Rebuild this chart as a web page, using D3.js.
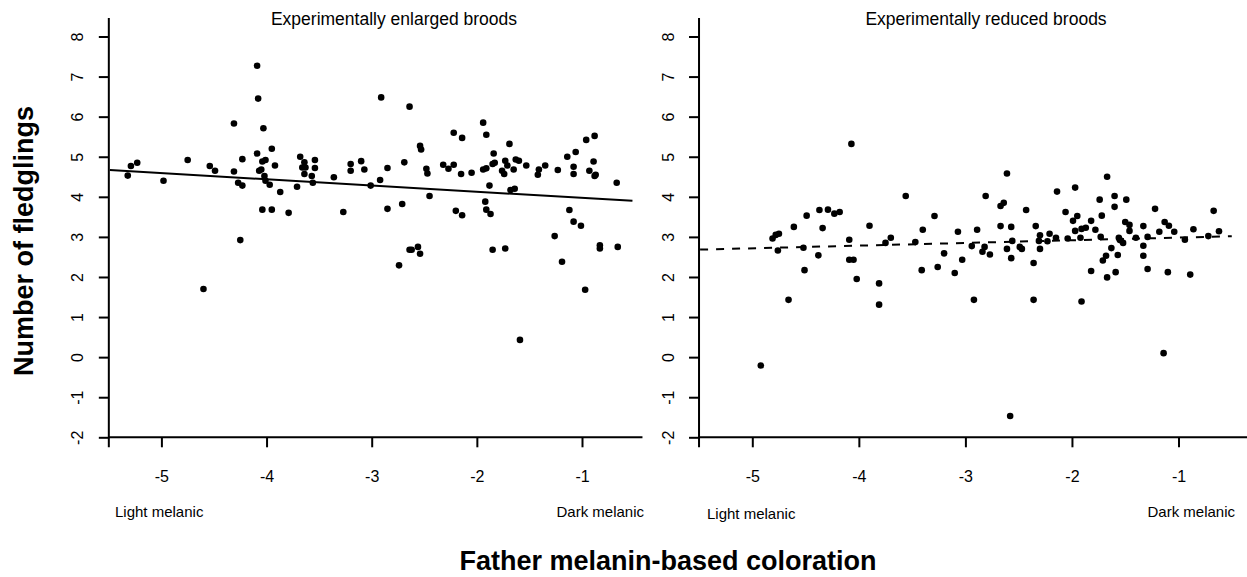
<!DOCTYPE html>
<html>
<head>
<meta charset="utf-8">
<script src="https://cdn.jsdelivr.net/npm/d3@7"></script>
<style>
  body { margin: 0; background: #fff; }
  svg { font-family: "Liberation Sans", Arial, sans-serif; }
</style>
</head>
<body>
<div id="chart"></div>
<script>
var width = 1247, height = 577;

// values
var xTicks = [-5, -4, -3, -2, -1];
var yTicks = [-2, -1, 0, 1, 2, 3, 4, 5, 6, 7, 8];

var enlarged = [
  [-4.09,7.27],[-4.08,6.45],[-2.91,6.48],[-2.64,6.25],[-4.31,5.83],[-4.03,5.71],[-1.94,5.85],
  [-5.32,4.53],[-5.29,4.77],[-5.23,4.85],[-4.98,4.40],[-4.75,4.92],[-4.54,4.77],[-4.49,4.65],
  [-4.31,4.63],[-4.27,4.35],[-4.23,4.28],[-4.23,4.94],[-4.25,2.92],[-4.09,5.08],[-4.07,4.65],
  [-4.05,4.68],[-4.04,4.88],[-4.01,4.92],[-4.02,4.52],[-4.01,4.40],[-3.97,4.30],[-3.95,5.20],
  [-3.92,4.78],[-4.04,3.68],[-3.95,3.68],[-3.87,4.12],[-3.79,3.60],[-3.71,4.25],[-3.68,5.00],
  [-3.64,4.86],[-3.66,4.73],[-3.63,4.73],[-3.64,4.57],[-3.57,4.52],[-3.56,4.35],[-3.54,4.92],
  [-3.54,4.72],[-3.36,4.49],[-3.27,3.62],[-3.20,4.82],[-3.20,4.65],[-3.10,4.89],[-3.07,4.68],
  [-3.01,4.28],[-2.92,4.42],[-2.85,4.72],[-2.85,3.70],[-2.71,3.82],[-2.69,4.86],[-2.54,5.27],
  [-2.53,5.18],[-2.48,4.70],[-2.47,4.58],[-2.45,4.02],[-2.32,4.80],[-2.27,4.70],[-2.22,4.80],
  [-2.22,5.60],[-2.20,3.65],[-2.15,4.57],[-2.14,5.47],[-2.14,3.54],[-2.05,4.60],[-1.94,4.68],
  [-1.91,4.71],[-1.91,5.55],[-1.92,3.88],[-1.91,3.68],[-1.88,4.28],[-1.87,3.57],[-1.85,4.82],
  [-1.84,5.08],[-1.83,4.85],[-1.76,4.65],[-1.74,4.57],[-1.73,4.90],[-1.71,4.78],[-1.69,5.32],
  [-1.68,4.17],[-1.65,4.68],[-1.64,4.20],[-1.63,4.93],[-1.60,4.90],[-1.53,4.78],[-1.42,4.55],
  [-1.41,4.68],[-1.35,4.78],[-1.26,3.02],[-1.23,4.67],[-1.14,5.00],[-1.12,3.67],[-1.08,3.38],
  [-1.08,4.75],[-1.08,4.57],[-1.06,5.12],[-1.01,3.28],[-0.96,5.42],[-0.93,4.65],[-0.89,4.88],
  [-0.88,5.52],[-0.88,4.52],[-0.87,4.55],[-0.67,4.35],
  [-4.60,1.70],[-2.74,2.29],[-2.64,2.68],[-2.62,2.68],[-2.56,2.75],[-2.54,2.58],[-1.85,2.68],
  [-1.73,2.71],[-1.59,0.43],[-1.19,2.38],[-0.97,1.68],[-0.83,2.79],[-0.83,2.71],[-0.66,2.75]
];

var reduced = [
  [-4.07,5.32],[-2.61,4.58],[-1.67,4.50],[-3.56,4.02],[-2.81,4.02],[-2.14,4.13],[-1.97,4.23],
  [-1.60,4.02],[-1.74,3.93],[-1.49,3.93],[-2.67,3.77],[-2.64,3.85],[-1.60,3.75],[-4.37,3.67],
  [-4.29,3.68],[-4.23,3.58],[-4.18,3.62],[-4.49,3.53],[-2.43,3.67],[-1.22,3.70],[-0.67,3.65],
  [-3.29,3.52],[-2.06,3.62],[-1.95,3.52],[-1.72,3.53],[-1.99,3.40],[-1.82,3.40],[-1.50,3.37],
  [-1.13,3.37],[-1.09,3.28],[-1.46,3.30],[-1.33,3.27],[-4.61,3.25],[-4.34,3.22],[-3.90,3.28],
  [-3.40,3.18],[-3.07,3.13],[-2.89,3.18],[-2.67,3.27],[-2.57,3.25],[-2.34,3.27],[-2.21,3.08],
  [-2.30,3.04],[-2.15,2.98],[-2.04,2.96],[-1.97,3.15],[-1.91,3.20],[-1.87,3.23],[-1.78,3.18],
  [-1.92,2.98],[-1.46,3.15],[-1.40,2.98],[-1.29,3.00],[-1.18,3.13],[-1.04,3.13],[-0.94,2.93],
  [-0.86,3.19],[-0.72,3.02],[-0.62,3.14],[-4.81,2.96],[-4.78,3.05],[-4.75,3.08],[-4.09,2.93],
  [-3.70,2.98],[-2.56,2.90],[-2.31,2.90],[-1.73,3.00],[-1.56,2.98],[-1.55,2.92],[-1.33,2.78],
  [-4.76,2.66],[-4.66,1.43],[-4.92,-0.21],[-4.52,2.73],[-4.51,2.17],[-4.38,2.54],[-4.09,2.43],
  [-4.05,2.43],[-4.02,1.95],[-3.81,1.84],[-3.81,1.31],[-3.75,2.85],[-3.47,2.87],[-3.41,2.17],
  [-3.26,2.25],[-3.20,2.59],[-3.10,2.10],[-3.03,2.43],[-2.94,2.77],[-2.92,1.43],[-2.84,2.63],
  [-2.82,2.75],[-2.77,2.56],[-2.61,2.70],[-2.57,2.47],[-2.49,2.75],[-2.47,2.70],[-2.36,2.35],
  [-2.36,1.43],[-2.30,2.70],[-2.23,2.89],[-1.91,1.39],[-1.82,2.15],[-1.71,2.41],[-1.68,2.53],
  [-1.67,1.99],[-1.63,2.72],[-1.59,2.12],[-1.57,2.55],[-1.52,2.85],[-1.33,2.53],[-1.29,2.20],
  [-1.14,0.10],[-1.10,2.12],[-0.89,2.06],[-2.58,-1.47]
];

// fitted lines: intercept, slope, x range
var enlargedFit = {a: 3.819, b: -0.1544, from: -5.49, to: -0.52};
var reducedFit  = {a: 3.050, b: 0.0669,  from: -5.49, to: -0.50};

var titles = ["Experimentally enlarged broods", "Experimentally reduced broods"];

var svg = d3.select("#chart").append("svg")
    .attr("width", width)
    .attr("height", height);

var y = d3.scaleLinear().domain([-2, 8]).range([437.3, 36.5]);

// plain hyphen minus, like the original
var fmt = function(d) { return String(d); };

function drawPanel(opts) {
  var x = d3.scaleLinear().domain([-5, -1]).range(opts.range);
  var g = svg.append("g");

  // y axis
  var yAx = g.append("g")
      .attr("transform", "translate(" + x(-5.5) + ",0)")
      .call(d3.axisLeft(y).tickValues(yTicks).tickFormat(fmt).tickSize(10).tickSizeOuter(0));
  yAx.select(".domain").remove();
  yAx.selectAll(".tick line").attr("stroke", "#000").attr("stroke-width", 2);
  yAx.selectAll(".tick text")
      .attr("x", null).attr("dy", "0.35em")
      .attr("transform", "translate(-31,0) rotate(-90)")
      .attr("text-anchor", "middle")
      .style("font-size", "16px").attr("fill", "#000");
  g.append("line")
      .attr("x1", x(-5.5)).attr("x2", x(-5.5))
      .attr("y1", y(8.46)).attr("y2", y(-2.25))
      .attr("stroke", "#000").attr("stroke-width", 2);

  // x axis
  var xAx = g.append("g")
      .attr("transform", "translate(0," + y(-2) + ")")
      .call(d3.axisBottom(x).tickValues(xTicks).tickFormat(fmt).tickSize(10).tickSizeOuter(0));
  xAx.select(".domain").remove();
  xAx.selectAll(".tick line").attr("stroke", "#000").attr("stroke-width", 2);
  xAx.selectAll(".tick text")
      .attr("y", 33)
      .style("font-size", "16px").attr("fill", "#000");
  g.append("line")
      .attr("x1", x(-5.5)).attr("x2", x(opts.xEnd))
      .attr("y1", y(-2)).attr("y2", y(-2))
      .attr("stroke", "#000").attr("stroke-width", 2);

  // points
  g.selectAll("circle")
      .data(opts.data)
      .enter().append("circle")
      .attr("cx", function(d) { return x(d[0]); })
      .attr("cy", function(d) { return y(d[1]); })
      .attr("r", 3.3)
      .attr("fill", "#000");

  // fitted line
  var f = opts.fit;
  g.append("line")
      .attr("x1", x(f.from)).attr("y1", y(f.a + f.b * f.from))
      .attr("x2", x(f.to)).attr("y2", y(f.a + f.b * f.to))
      .attr("stroke", "#000").attr("stroke-width", 2)
      .attr("stroke-dasharray", opts.dash);

  g.append("text")
      .attr("x", opts.titleX).attr("y", 24.5)
      .attr("text-anchor", "middle")
      .style("font-size", "17.5px")
      .text(opts.title);

  g.append("text")
      .attr("x", opts.lightX).attr("y", opts.lightY)
      .style("font-size", "15px")
      .text("Light melanic");
  g.append("text")
      .attr("x", opts.darkX).attr("y", 516.5)
      .attr("text-anchor", "end")
      .style("font-size", "15px")
      .text("Dark melanic");
}

drawPanel({data: enlarged, fit: enlargedFit, title: titles[0], range: [161.4, 582],
  xEnd: -0.425, dash: null, titleX: 394, lightX: 115, lightY: 517, darkX: 644});
drawPanel({data: reduced, fit: reducedFit, title: titles[1], range: [752.3, 1178.5],
  xEnd: 0, dash: "8,8", titleX: 986, lightX: 707, lightY: 518.5, darkX: 1235});

svg.append("text")
    .attr("transform", "translate(33,241) rotate(-90)")
    .attr("text-anchor", "middle")
    .style("font-size", "27px").style("font-weight", "bold")
    .text("Number of fledglings");

svg.append("text")
    .attr("x", 668).attr("y", 570)
    .attr("text-anchor", "middle")
    .style("font-size", "27px").style("font-weight", "bold")
    .text("Father melanin-based coloration");
</script>
</body>
</html>
